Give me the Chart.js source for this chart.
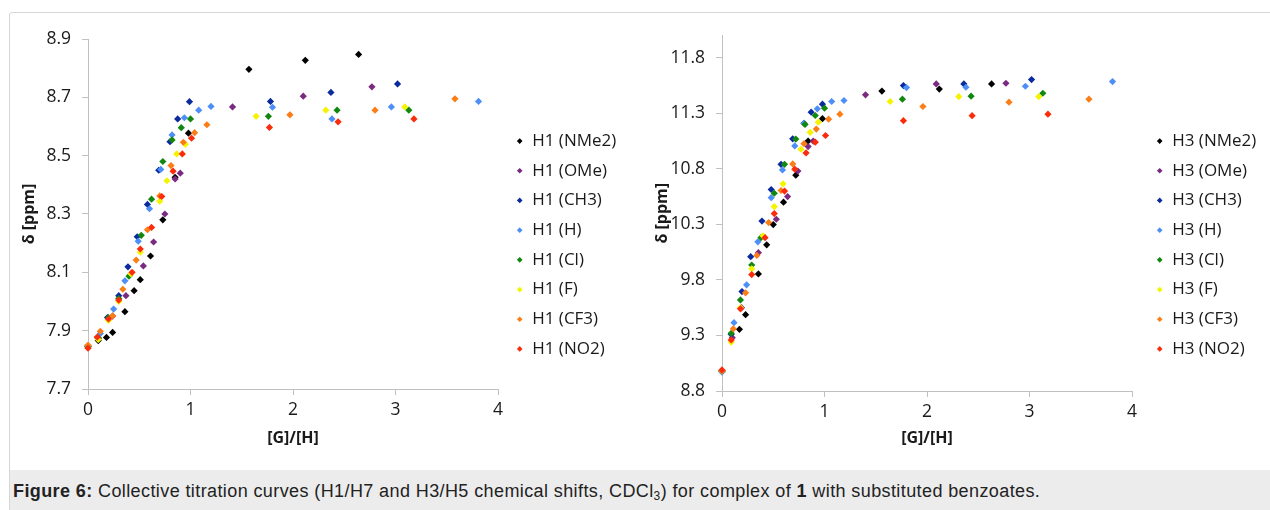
<!DOCTYPE html>
<html><head><meta charset="utf-8">
<script src="https://cdn.jsdelivr.net/npm/chart.js@4.4.0/dist/chart.umd.min.js"></script>
<style>
html,body{margin:0;padding:0;background:#fff;width:1270px;height:510px;overflow:hidden;position:relative;}
#frame{position:absolute;left:9px;top:12px;width:1266px;height:505px;border:1px solid #d6d6d6;border-radius:3px;box-sizing:border-box;}
#cap{position:absolute;left:10px;top:470px;width:1265px;height:45px;background:#ececec;}
#capText{position:absolute;left:13px;top:481px;font-family:"Liberation Sans",Arial,sans-serif;font-size:18px;letter-spacing:0.4px;color:#222;white-space:nowrap;}
#capText sub{font-size:12px;vertical-align:-3px;line-height:0;}
canvas{position:absolute;}
</style></head>
<body>
<div id="frame"></div><div id="cap"></div>
<div id="capText"><b>Figure 6:</b> Collective titration curves (H1/H7 and H3/H5 chemical shifts, CDCl<sub>3</sub>) for complex of <b>1</b> with substituted benzoates.</div>
<canvas id="c1" width="620" height="452" style="left:10px;top:14px"></canvas>
<canvas id="c2" width="620" height="452" style="left:646px;top:14px"></canvas>
<script>
// ---- data ----
const substituents = ['NMe2','OMe','CH3','H','Cl','F','CF3','NO2'];
const seriesColors = ['#000000','#7a2a80','#0a2b9e','#4e8ef7','#12870f','#f4f400','#fb7d18','#fb2c0c'];
const xTickValues = [0,1,2,3,4];
const xTickLabels = ['0','1','2','3','4'];
const h1TickValues = [7.7,7.9,8.1,8.3,8.5,8.7,8.9];
const h1TickLabels = ['7.7','7.9','8.1','8.3','8.5','8.7','8.9'];
const h3TickValues = [8.8,9.3,9.8,10.3,10.8,11.3,11.8];
const h3TickLabels = ['8.8','9.3','9.8','10.3','10.8','11.3','11.8'];

// H1 chemical shifts: [G]/[H], delta
const h1_NMe2 = [[0,7.845],[0.10,7.866],[0.18,7.877],[0.24,7.894],[0.36,7.965],[0.45,8.037],[0.51,8.075],[0.61,8.156],[0.73,8.28],[0.85,8.426],[0.98,8.577],[1.57,8.796],[2.12,8.827],[2.64,8.847]];
const h1_OMe  = [[0,7.845],[0.10,7.872],[0.24,7.95],[0.37,8.02],[0.54,8.122],[0.64,8.204],[0.75,8.30],[0.85,8.42],[0.90,8.44],[1.41,8.667],[2.10,8.704],[2.77,8.736]];
const h1_CH3  = [[0,7.85],[0.10,7.875],[0.19,7.945],[0.30,8.02],[0.39,8.119],[0.48,8.222],[0.58,8.333],[0.69,8.45],[0.80,8.548],[0.875,8.626],[0.99,8.685],[1.78,8.686],[2.37,8.717],[3.02,8.746]];
const h1_H    = [[0,7.85],[0.12,7.89],[0.25,7.974],[0.36,8.071],[0.49,8.207],[0.60,8.318],[0.71,8.453],[0.82,8.571],[0.94,8.63],[1.08,8.656],[1.20,8.669],[1.80,8.666],[2.38,8.626],[2.96,8.667],[3.81,8.686]];
const h1_Cl   = [[0,7.845],[0.10,7.875],[0.20,7.945],[0.30,8.01],[0.40,8.087],[0.52,8.227],[0.62,8.351],[0.73,8.48],[0.82,8.554],[0.91,8.596],[1.00,8.626],[1.76,8.635],[2.43,8.656],[3.13,8.656]];
const h1_F    = [[0,7.85],[0.10,7.87],[0.20,7.935],[0.30,8.0],[0.42,8.095],[0.51,8.169],[0.70,8.344],[0.77,8.414],[0.865,8.506],[0.95,8.539],[1.64,8.635],[2.32,8.656],[3.09,8.667]];
const h1_CF3  = [[0,7.85],[0.12,7.898],[0.24,7.951],[0.34,8.042],[0.47,8.142],[0.58,8.246],[0.70,8.362],[0.81,8.466],[0.93,8.546],[1.04,8.579],[1.16,8.606],[1.97,8.64],[2.80,8.656],[3.58,8.695]];
const h1_NO2  = [[0,7.84],[0.09,7.878],[0.20,7.94],[0.30,8.005],[0.43,8.10],[0.51,8.18],[0.62,8.254],[0.72,8.36],[0.83,8.447],[0.92,8.506],[1.01,8.56],[1.77,8.597],[2.44,8.616],[3.18,8.626]];

// H3 chemical shifts: [G]/[H], delta
const h3_NMe2 = [[0,8.98],[0.17,9.355],[0.23,9.487],[0.355,9.854],[0.436,10.116],[0.50,10.298],[0.60,10.50],[0.72,10.743],[0.84,11.05],[0.98,11.251],[1.56,11.50],[2.12,11.518],[2.63,11.564]];
const h3_OMe  = [[0,8.98],[0.10,9.28],[0.19,9.55],[0.355,10.045],[0.53,10.346],[0.64,10.55],[0.74,10.78],[0.84,11.0],[0.89,11.05],[1.40,11.466],[2.09,11.564],[2.77,11.57]];
const h3_CH3  = [[0,8.98],[0.09,9.31],[0.195,9.695],[0.28,10.009],[0.39,10.33],[0.48,10.614],[0.576,10.84],[0.69,11.07],[0.80,11.21],[0.87,11.31],[0.98,11.382],[1.77,11.549],[2.36,11.564],[3.02,11.603]];
const h3_H    = [[0,8.97],[0.117,9.415],[0.24,9.756],[0.35,10.143],[0.48,10.54],[0.59,10.79],[0.71,11.006],[0.80,11.21],[0.93,11.34],[1.07,11.406],[1.19,11.415],[1.80,11.531],[2.38,11.534],[2.96,11.543],[3.81,11.585]];
const h3_Cl   = [[0,8.98],[0.09,9.32],[0.18,9.62],[0.29,9.934],[0.38,10.18],[0.51,10.58],[0.61,10.84],[0.72,11.068],[0.81,11.20],[0.91,11.28],[1.00,11.346],[1.76,11.427],[2.43,11.454],[3.13,11.48]];
const h3_F    = [[0,8.98],[0.09,9.24],[0.18,9.55],[0.29,9.90],[0.40,10.197],[0.51,10.46],[0.595,10.665],[0.77,10.976],[0.86,11.128],[0.94,11.22],[1.64,11.406],[2.31,11.45],[3.09,11.45]];
const h3_CF3  = [[0,8.98],[0.11,9.36],[0.23,9.684],[0.34,10.02],[0.455,10.316],[0.576,10.605],[0.69,10.844],[0.80,11.026],[0.92,11.158],[1.04,11.247],[1.15,11.292],[1.96,11.361],[2.80,11.40],[3.58,11.427]];
const h3_NO2  = [[0,8.99],[0.09,9.26],[0.18,9.54],[0.29,9.848],[0.42,10.18],[0.51,10.397],[0.61,10.60],[0.71,10.797],[0.82,10.943],[0.91,11.04],[1.01,11.10],[1.77,11.233],[2.44,11.278],[3.18,11.292]];

const h1Series = [h1_NMe2,h1_OMe,h1_CH3,h1_H,h1_Cl,h1_F,h1_CF3,h1_NO2];
const h3Series = [h3_NMe2,h3_OMe,h3_CH3,h3_H,h3_Cl,h3_F,h3_CF3,h3_NO2];

// ---- rendering ----
Chart.defaults.font.family = "'Open Sans', 'DejaVu Sans', sans-serif";
Chart.defaults.color = '#1a1a1a';

const legendShift = {
  id: 'legendShift',
  beforeLayout(chart, args, o) {
    const lg = chart.legend;
    if (lg && !lg.__wrapped) {
      const f = lg.fit, d = lg.draw;
      lg.fit = function () { f.call(this); this.width = o.width; };
      lg.draw = function () { const c = this.ctx; c.save(); c.translate(o.dx, o.dy); d.call(this); c.restore(); };
      lg.__wrapped = true;
    }
  }
};

function makeChart(id, prefix, series, yTicks, yLabels, yMin, yMax, g) {
  const datasets = series.map((pts, i) => ({
    label: prefix + ' (' + substituents[i] + ')',
    data: pts.map(p => ({x: p[0], y: p[1]})),
    showLine: false,
    clip: false,
    pointStyle: 'rectRot',
    pointRadius: 3.6,
    pointBorderWidth: 0,
    borderWidth: 0,
    backgroundColor: seriesColors[i],
    borderColor: seriesColors[i],
    pointBackgroundColor: seriesColors[i],
    pointBorderColor: seriesColors[i],
    order: series.length - i
  }));
  const axisGrey = '#c0c0c0';
  return new Chart(document.getElementById(id), {
    type: 'scatter',
    data: {datasets},
    plugins: [legendShift],
    options: {
      responsive: false, animation: false, events: [],
      devicePixelRatio: 1,
      layout: {padding: {top: g.padTop, left: 0, right: 0, bottom: 0}},
      plugins: {
        tooltip: {enabled: false},
        legendShift: {width: g.legendW, dx: g.dx, dy: g.dy},
        legend: {
          position: 'right', align: 'center',
          labels: {
            usePointStyle: true, boxWidth: 8, boxHeight: 4, padding: 12.7,
            color: '#1a1a1a', font: {size: 17},
            sort: (a, b) => a.datasetIndex - b.datasetIndex
          }
        }
      },
      scales: {
        x: {
          type: 'linear', position: 'bottom', min: 0, max: 4,
          afterBuildTicks: ax => { ax.ticks = xTickValues.map(v => ({value: v})); },
          afterFit: s => { s.height = g.xH; },
          ticks: {font: {size: 17.5}, padding: 5, color: '#1a1a1a', maxRotation: 0,
                  callback: (v, i) => xTickLabels[i]},
          grid: {display: true, drawOnChartArea: false, drawTicks: true, tickLength: 6, color: axisGrey},
          border: {display: true, color: axisGrey},
          title: {display: true, text: '[G]/[H]', font: {size: 16, weight: 'bold'}, color: '#1a1a1a',
                  padding: {top: 0, bottom: 18}}
        },
        y: {
          type: 'linear', position: 'left', min: yMin, max: yMax,
          afterBuildTicks: ax => { ax.ticks = yTicks.map(v => ({value: v})); },
          afterFit: s => { s.width = g.yW; },
          ticks: {font: {size: 17.5}, padding: 11, color: '#1a1a1a',
                  callback: (v, i) => yLabels[i]},
          grid: {display: true, drawOnChartArea: false, drawTicks: true, tickLength: 6, color: axisGrey},
          border: {display: true, color: axisGrey},
          title: {display: true, text: 'δ [ppm]', font: {size: 16, weight: 'bold'}, color: '#1a1a1a',
                  padding: {top: g.yTitlePad, bottom: 0}}
        }
      }
    }
  });
}

makeChart('c1', 'H1', h1Series, h1TickValues, h1TickLabels, 7.7, 8.9,
  {padTop: 25, legendW: 132, dx: 5, dy: -7.5, xH: 77, yW: 78, yTitlePad: 10});
makeChart('c2', 'H3', h3Series, h3TickValues, h3TickLabels, 8.8, 12.0,
  {padTop: 20, legendW: 134, dx: 11, dy: -5, xH: 75, yW: 76, yTitlePad: 7});
</script>
</body></html>
